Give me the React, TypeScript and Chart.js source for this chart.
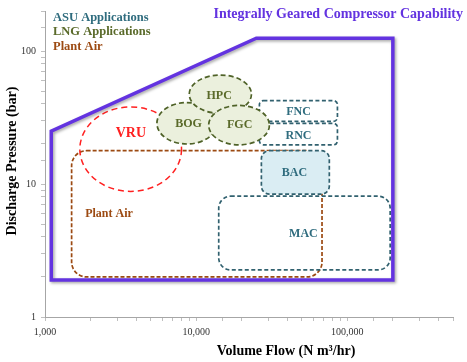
import React, { useEffect, useRef } from 'react';
import { Chart, registerables } from 'chart.js';

Chart.register(...registerables);

// Capability envelope (Volume flow N m3/hr, discharge pressure bar)
const capabilityFlow = [1100, 1100, 25000, 200000, 200000, 1100];
const capabilityPressure = [1.9, 25, 125, 125, 1.9, 1.9];

// LNG ellipses (bounding boxes in data units)
const ellipseNames = ['BOG', 'HPC', 'FGC'];
const ellipseFlowMin = [5500, 9000, 12100];
const ellipseFlowMax = [13700, 23200, 30500];
const ellipsePressureMin = [20, 34, 19.7];
const ellipsePressureMax = [41, 66, 39];

// VRU circle
const vruFlow = [1700, 8000];
const vruPressure = [8.8, 38];

// Rounded boxes
const boxNames = ['Plant Air', 'MAC', 'BAC', 'FNC', 'RNC'];
const boxFlowMin = [1500, 14100, 27000, 26200, 26200];
const boxFlowMax = [68000, 192000, 76000, 86000, 86000];
const boxPressureMin = [2.0, 2.26, 8.4, 29.6, 19.7];
const boxPressureMax = [17.8, 8.1, 17.8, 42.4, 28.6];

// Region labels
const labelText = ['HPC', 'BOG', 'FGC', 'VRU', 'FNC', 'RNC', 'BAC', 'MAC', 'Plant Air'];
const labelFlow = [14200, 8900, 19400, 3700, 47500, 47500, 44700, 51200, 2650];
const labelPressure = [46.1, 28.2, 27.7, 24.2, 35.1, 22.9, 12.2, 4.18, 5.98];

const xTickLabels = [1000, 10000, 100000];
const yTickLabels = [1, 10, 100];

const PURPLE = '#6333E0';
const TEAL = '#31616F';
const TEAL_TEXT = '#2F6C7E';
const OLIVE = '#4F6228';
const OLIVE_TEXT = '#5A6A2A';
const BROWN = '#9C4A12';
const RED = '#FF2020';
const SERIF = '"Liberation Serif", "Times New Roman", serif';

function labelColor(name: string) {
  if (name === 'VRU') return RED;
  if (name === 'Plant Air') return BROWN;
  if (['HPC', 'BOG', 'FGC'].includes(name)) return OLIVE_TEXT;
  return TEAL_TEXT;
}

function roundRect(ctx: CanvasRenderingContext2D, x: number, y: number, w: number, h: number, r: number) {
  ctx.beginPath();
  ctx.moveTo(x + r, y);
  ctx.lineTo(x + w - r, y);
  ctx.arcTo(x + w, y, x + w, y + r, r);
  ctx.lineTo(x + w, y + h - r);
  ctx.arcTo(x + w, y + h, x + w - r, y + h, r);
  ctx.lineTo(x + r, y + h);
  ctx.arcTo(x, y + h, x, y + h - r, r);
  ctx.lineTo(x, y + r);
  ctx.arcTo(x, y, x + r, y, r);
  ctx.closePath();
}

const shapesPlugin = {
  id: 'shapes',
  beforeDatasetsDraw(chart: any) {
    const { ctx, scales } = chart;
    const xs = scales.x;
    const ys = scales.y;
    ctx.save();
    // Boxes
    const radii = [15, 12, 8, 4, 4];
    boxNames.forEach((name, i) => {
      const x1 = xs.getPixelForValue(boxFlowMin[i]);
      const x2 = xs.getPixelForValue(boxFlowMax[i]);
      const y1 = ys.getPixelForValue(boxPressureMax[i]);
      const y2 = ys.getPixelForValue(boxPressureMin[i]);
      roundRect(ctx, x1, y1, x2 - x1, y2 - y1, radii[i]);
      if (name === 'BAC') {
        ctx.fillStyle = '#DAEDF3';
        ctx.fill();
      }
      ctx.lineWidth = 1.7;
      ctx.strokeStyle = name === 'Plant Air' ? BROWN : TEAL;
      ctx.setLineDash(name === 'Plant Air' ? [4, 2] : [4, 2.5]);
      ctx.stroke();
    });
    // VRU
    {
      const x1 = xs.getPixelForValue(vruFlow[0]);
      const x2 = xs.getPixelForValue(vruFlow[1]);
      const y1 = ys.getPixelForValue(vruPressure[1]);
      const y2 = ys.getPixelForValue(vruPressure[0]);
      ctx.beginPath();
      ctx.ellipse((x1 + x2) / 2, (y1 + y2) / 2, (x2 - x1) / 2, (y2 - y1) / 2, 0, 0, Math.PI * 2);
      ctx.lineWidth = 1.5;
      ctx.strokeStyle = RED;
      ctx.setLineDash([6, 4]);
      ctx.stroke();
    }
    // LNG ellipses
    ellipseNames.forEach((_, i) => {
      const x1 = xs.getPixelForValue(ellipseFlowMin[i]);
      const x2 = xs.getPixelForValue(ellipseFlowMax[i]);
      const y1 = ys.getPixelForValue(ellipsePressureMax[i]);
      const y2 = ys.getPixelForValue(ellipsePressureMin[i]);
      ctx.beginPath();
      ctx.ellipse((x1 + x2) / 2, (y1 + y2) / 2, (x2 - x1) / 2, (y2 - y1) / 2, 0, 0, Math.PI * 2);
      ctx.fillStyle = '#EBF0DD';
      ctx.fill();
      ctx.lineWidth = 1.7;
      ctx.strokeStyle = OLIVE;
      ctx.setLineDash([5, 3]);
      ctx.stroke();
    });
    ctx.setLineDash([]);
    // Labels
    ctx.textAlign = 'center';
    ctx.textBaseline = 'middle';
    labelText.forEach((t, i) => {
      ctx.font = `bold ${t === 'VRU' ? 14 : 12}px ${SERIF}`;
      ctx.fillStyle = labelColor(t);
      ctx.fillText(t, xs.getPixelForValue(labelFlow[i]), ys.getPixelForValue(labelPressure[i]));
    });
    ctx.restore();
  },
  beforeDatasetDraw(chart: any) {
    const { ctx } = chart;
    ctx.save();
    ctx.shadowColor = 'rgba(0,0,0,0.35)';
    ctx.shadowBlur = 3;
    ctx.shadowOffsetX = 1.5;
    ctx.shadowOffsetY = 1.5;
  },
  afterDatasetDraw(chart: any) {
    chart.ctx.restore();
  },
  afterDraw(chart: any) {
    const { ctx } = chart;
    ctx.save();
    ctx.textBaseline = 'middle';
    ctx.textAlign = 'left';
    ctx.font = `bold 12.5px ${SERIF}`;
    ctx.fillStyle = TEAL_TEXT;
    ctx.fillText('ASU Applications', 53, 18);
    ctx.fillStyle = OLIVE_TEXT;
    ctx.fillText('LNG Applications', 53, 32);
    ctx.fillStyle = BROWN;
    ctx.fillText('Plant Air', 53, 47);
    ctx.font = `bold 14px ${SERIF}`;
    ctx.fillStyle = PURPLE;
    ctx.textAlign = 'right';
    ctx.fillText('Integrally Geared Compressor Capability', 463, 14);
    ctx.fillStyle = '#000';
    ctx.textAlign = 'center';
    ctx.fillText('Volume Flow (N m\u00B3/hr)', 286, 351);
    ctx.translate(12, 161);
    ctx.rotate(-Math.PI / 2);
    ctx.fillText('Discharge Pressure (bar)', 0, 0);
    ctx.restore();
  },
};

export default function App() {
  const canvasRef = useRef<HTMLCanvasElement>(null);
  useEffect(() => {
    const canvas = canvasRef.current!;
    const data = capabilityFlow.map((f, i) => ({ x: f, y: capabilityPressure[i] }));
    const tickFont = { family: SERIF, size: 10 };
    const chart = new Chart(canvas, {
      type: 'scatter',
      data: {
        datasets: [
          {
            label: 'Integrally Geared Compressor Capability',
            data,
            showLine: true,
            borderColor: PURPLE,
            borderWidth: 3.5,
            pointRadius: 0,
            borderJoinStyle: 'miter',
            borderCapStyle: 'square',
            fill: false,
          } as any,
        ],
      },
      options: {
        responsive: false,
        animation: false,
        devicePixelRatio: 1,
        layout: { padding: { top: 6, right: 14, left: 0, bottom: 0 } },
        plugins: { legend: { display: false }, tooltip: { enabled: false } },
        scales: {
          x: {
            type: 'logarithmic',
            min: 1000,
            max: 500000,
            afterFit: (s: any) => { s.height = 45; },
            grid: { drawOnChartArea: false, drawTicks: true, tickLength: 4, color: '#BFBFBF' },
            border: { color: '#A6A6A6' },
            ticks: {
              autoSkip: false,
              maxRotation: 0,
              padding: 5,
              font: tickFont,
              color: '#333',
              callback: (v: any) => (xTickLabels.includes(Number(v)) ? Number(v).toLocaleString('en-US') : ''),
            },
          },
          y: {
            type: 'logarithmic',
            min: 1,
            max: 200,
            afterFit: (s: any) => { s.width = 45; },
            grid: { drawOnChartArea: false, drawTicks: true, tickLength: 4, color: '#BFBFBF' },
            border: { color: '#A6A6A6' },
            ticks: {
              autoSkip: false,
              padding: 5,
              font: tickFont,
              color: '#333',
              callback: (v: any) => (yTickLabels.includes(Number(v)) ? String(v) : ''),
            },
          },
        },
      },
      plugins: [shapesPlugin as any],
    });
    return () => chart.destroy();
  }, []);
  return (
    <div style={{ position: 'absolute', left: 0, top: 0, width: 467, height: 362, background: '#fff' }}>
      <canvas ref={canvasRef} width={467} height={362} style={{ display: 'block' }} />
    </div>
  );
}
